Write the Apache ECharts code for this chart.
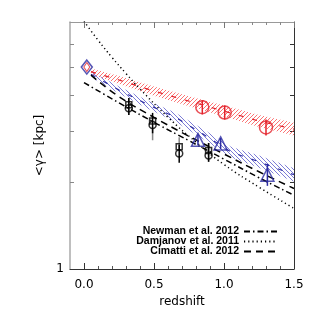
<!DOCTYPE html>
<html><head><meta charset="utf-8">
<script src="https://cdn.jsdelivr.net/npm/echarts@6/dist/echarts.min.js"></script>
<style>html,body{margin:0;padding:0;background:#fff}#c{width:315px;height:315px}</style>
</head><body><div id="c"></div>
<script>
// ---- tick labels ----
const xTickLabels = [0, 0.5, 1.0, 1.5];
const xMinorTicks = [0.1, 0.2, 0.3, 0.4, 0.6, 0.7, 0.8, 0.9, 1.1, 1.2, 1.3, 1.4];
const yTicks = [2, 3, 4, 5, 6];
const yTickLabels = [1];

// ---- hatched bands ----
const redBandX = [0.05, 0.25, 0.5, 0.75, 1.0, 1.25, 1.5];
const redBandMid = [4.82, 4.51, 4.13, 3.81, 3.52, 3.25, 3.05];
const redBandUpper = [4.94, 4.66, 4.28, 3.96, 3.68, 3.41, 3.21];
const redBandLower = [4.71, 4.37, 3.98, 3.66, 3.37, 3.10, 2.90];

const blueBandX = [0.05, 0.25, 0.45, 0.65, 0.85, 1.05, 1.25, 1.5];
const blueBandMid = [4.72, 4.16, 3.72, 3.36, 2.93, 2.54, 2.35, 2.12];
const blueBandUpper = [4.83, 4.28, 3.84, 3.48, 3.05, 2.65, 2.47, 2.23];
const blueBandLower = [4.61, 4.05, 3.60, 3.24, 2.82, 2.43, 2.24, 2.01];

// ---- literature relations ----
const newmanX = [0, 0.25, 0.5, 0.75, 1.0, 1.25, 1.5];
const newmanY = [4.42, 3.76, 3.22, 2.78, 2.40, 2.07, 1.80];
const cimattiX = [0.05, 0.25, 0.5, 0.75, 1.0, 1.25, 1.5];
const cimattiY = [4.69, 3.95, 3.35, 2.88, 2.50, 2.17, 1.90];
const damjanovX = [0, 0.1, 0.2, 0.3, 0.4, 0.6, 0.8, 1.0, 1.25, 1.5];
const damjanovY = [7.2, 6.2, 5.4, 4.75, 4.2, 3.35, 2.75, 2.3, 1.92, 1.62];

// ---- data points ----
const diamondX = [0.02];
const diamondY = [5.0];
const redCircleX = [0.845, 1.005, 1.30];
const redCircleY = [3.63, 3.48, 3.09];
const redCircleLow = [3.43, 3.29, 2.90];
const redCircleHigh = [3.84, 3.68, 3.29];
const triX = [0.814, 0.976, 1.31];
const triY = [2.80, 2.72, 2.12];
const triLow = [2.68, 2.60, 1.94];
const triHigh = [2.92, 2.84, 2.31];
const blackX = [0.32, 0.49, 0.68, 0.89];
const squareY = [3.70, 3.25, 2.65, 2.57];
const circleY = [3.60, 3.15, 2.51, 2.47];
const blackLow = [3.41, 2.95, 2.33, 2.35];
const blackHigh = [3.91, 3.47, 2.69, 2.73];
const greyLow = [3.41, 2.79, 2.60, 2.35];
const greyHigh = [3.91, 3.05, 2.86, 2.73];

const RED = '#e3222b', BLUE = '#2c2ca3', BLACK = '#000';

function hatch(color, dir) {
  const c = document.createElement('canvas');
  c.width = 4; c.height = 4;
  const g = c.getContext('2d');
  g.strokeStyle = color; g.lineWidth = 1;
  g.beginPath();
  if (dir > 0) {
    g.moveTo(-1, 5); g.lineTo(5, -1);
    g.moveTo(-3, 3); g.lineTo(3, -3);
    g.moveTo(1, 7); g.lineTo(7, 1);
  } else {
    g.moveTo(-1, -1); g.lineTo(5, 5);
    g.moveTo(-3, 1); g.lineTo(3, 7);
    g.moveTo(1, -3); g.lineTo(7, 3);
  }
  g.stroke();
  return c;
}
const redPattern = { image: hatch('rgba(250,70,70,0.75)', 1), repeat: 'repeat' };
const bluePattern = { image: hatch('rgba(80,80,200,0.75)', -1), repeat: 'repeat' };

function bandSeries(xs, up, lo, pattern) {
  return {
    type: 'custom', silent: true, z: 1,
    data: xs.map((x, i) => [x, up[i], lo[i]]),
    encode: { x: 0, y: [1, 2] },
    renderItem: function (params, api) {
      if (params.dataIndex !== 0) return null;
      const pts = [];
      for (let i = 0; i < xs.length; i++) pts.push(api.coord([xs[i], up[i]]));
      for (let i = xs.length - 1; i >= 0; i--) pts.push(api.coord([xs[i], lo[i]]));
      return { type: 'polygon', shape: { points: pts }, style: { fill: pattern, stroke: null } };
    }
  };
}
function errSeries(xs, lo, hi, color, w) {
  return {
    type: 'custom', silent: true, z: 4,
    data: xs.map((x, i) => [x, lo[i], hi[i]]),
    encode: { x: 0, y: [1, 2] },
    renderItem: function (params, api) {
      const a = api.coord([api.value(0), api.value(1)]);
      const b = api.coord([api.value(0), api.value(2)]);
      return { type: 'line', shape: { x1: a[0], y1: a[1], x2: b[0], y2: b[1] }, style: { stroke: color, lineWidth: w } };
    }
  };
}
function lineSeries(name, xs, ys, color, type, w) {
  return {
    name: name, type: 'line', smooth: true, symbol: 'none', z: 3,
    data: xs.map((x, i) => [x, ys[i]]),
    lineStyle: { color: color, type: type, width: w }, itemStyle: { color: color }
  };
}
function scatter(xs, ys, symbol, size, color, w) {
  return {
    type: 'scatter', symbol: symbol, symbolSize: size, z: 5, silent: true,
    data: xs.map((x, i) => [x, ys[i]]),
    itemStyle: { color: 'rgba(0,0,0,0)', borderColor: color, borderWidth: w }
  };
}

const axisFont = { fontFamily: 'DejaVu Sans', fontSize: 12, color: '#000' };
const legendText = { fontFamily: 'Liberation Sans', fontSize: 10.5, fontWeight: 'bold', color: '#000' };
function legend(name, top) {
  return { data: [name], right: 37, top: top, orient: 'vertical', align: 'right', itemWidth: 33, itemHeight: 8,
    padding: 0, itemGap: 0, selectedMode: false, textStyle: legendText,
    itemStyle: { color: 'rgba(0,0,0,0)', borderWidth: 0, opacity: 0 } };
}

const chart = echarts.init(document.getElementById('c'), null, { renderer: 'canvas' });
chart.setOption({
  animation: false,
  backgroundColor: '#fff',
  grid: { left: 70, right: 21, top: 22, bottom: 46 },
  legend: [legend('Newman et al. 2012', 226), legend('Damjanov et al. 2011', 236), legend('Cimatti et al. 2012', 246)],
  xAxis: [
    { type: 'value', min: -0.1, max: 1.5, position: 'bottom',
      axisLine: { show: true, onZero: false, lineStyle: { color: '#333', width: 1 } },
      axisTick: { show: true, inside: true, length: 6, customValues: xTickLabels, lineStyle: { color: '#333' } },
      axisLabel: { customValues: xTickLabels, formatter: v => Number(v).toFixed(1), margin: 10, ...axisFont },
      splitLine: { show: false },
      name: 'redshift', nameLocation: 'middle', nameGap: 22, nameTextStyle: axisFont },
    { type: 'value', min: -0.1, max: 1.5, position: 'bottom',
      axisLine: { show: false, onZero: false },
      axisTick: { show: true, inside: true, length: 3, customValues: xMinorTicks, lineStyle: { color: '#555' } },
      axisLabel: { show: false }, splitLine: { show: false } },
    { type: 'value', min: -0.1, max: 1.5, position: 'top',
      axisLine: { show: true, onZero: false, lineStyle: { color: '#999', width: 1 } },
      axisTick: { show: true, inside: true, length: 6, customValues: xTickLabels, lineStyle: { color: '#777' } },
      axisLabel: { show: false }, splitLine: { show: false } },
    { type: 'value', min: -0.1, max: 1.5, position: 'top',
      axisLine: { show: false, onZero: false },
      axisTick: { show: true, inside: true, length: 3, customValues: xMinorTicks, lineStyle: { color: '#888' } },
      axisLabel: { show: false }, splitLine: { show: false } }
  ],
  yAxis: [
    { type: 'log', logBase: 10, min: 1, max: 7.16, position: 'left',
      axisLine: { show: true, onZero: false, lineStyle: { color: '#aaa', width: 1.5 } },
      axisTick: { show: true, inside: true, length: 4, customValues: yTicks, lineStyle: { color: '#888' } },
      axisLabel: { customValues: yTickLabels, margin: 6, ...axisFont },
      splitLine: { show: false },
      name: '<γ> [kpc]', nameLocation: 'middle', nameRotate: 90, nameGap: 11, nameTextStyle: axisFont },
    { type: 'log', logBase: 10, min: 1, max: 7.16, position: 'right',
      axisLine: { show: true, onZero: false, lineStyle: { color: '#333', width: 1 } },
      axisTick: { show: true, inside: true, length: 4, customValues: yTicks, lineStyle: { color: '#333' } },
      axisLabel: { show: false }, splitLine: { show: false } }
  ],
  series: [
    bandSeries(redBandX, redBandUpper, redBandLower, redPattern),
    bandSeries(blueBandX, blueBandUpper, blueBandLower, bluePattern),
    { type: 'line', symbol: 'none', silent: true, z: 2, data: redBandX.map((x, i) => [x, redBandMid[i]]),
      lineStyle: { color: RED, width: 1.2, type: [5, 9] } },
    { type: 'line', symbol: 'none', silent: true, z: 2, data: blueBandX.map((x, i) => [x, blueBandMid[i]]),
      lineStyle: { color: BLUE, width: 1.2, type: [5, 9] } },
    lineSeries('Newman et al. 2012', newmanX, newmanY, BLACK, [6, 3, 1.5, 3], 1.5),
    lineSeries('Damjanov et al. 2011', damjanovX, damjanovY, BLACK, [1.2, 3], 1.5),
    lineSeries('Cimatti et al. 2012', cimattiX, cimattiY, BLACK, [7, 5], 1.5),
    errSeries(blackX, greyLow, greyHigh, '#888', 1.5),
    errSeries(blackX, blackLow, blackHigh, BLACK, 1.5),
    errSeries(redCircleX, redCircleLow, redCircleHigh, RED, 1.5),
    errSeries(triX, triLow, triHigh, BLUE, 1.5),
    scatter(blackX, squareY, 'rect', 6, BLACK, 1.5),
    scatter(blackX, circleY, 'circle', 7, BLACK, 1.5),
    scatter(redCircleX, redCircleY, 'circle', 13, RED, 1.5),
    scatter(triX, triY, 'triangle', 13, BLUE, 1.5),
    scatter(diamondX, diamondY, 'diamond', [11, 14], BLUE, 1.5),
    scatter(diamondX, diamondY, 'diamond', [6, 9], RED, 1)
  ]
});
</script></body></html>
